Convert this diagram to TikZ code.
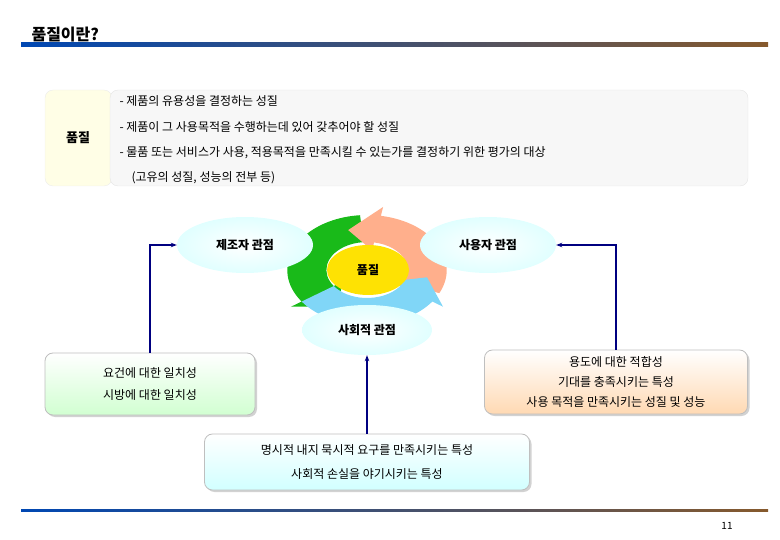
\documentclass[tikz,border=0pt]{standalone}
\usepackage{fontspec}
\setmainfont{Noto Sans CJK KR}
\usetikzlibrary{shadows,arrows.meta,shapes.geometric}
\begin{document}
\begin{tikzpicture}[x=1pt,y=-1pt,
  txt/.style={font=\fontsize{12}{14}\selectfont},
  ell/.style={ellipse,draw=none,shade,inner color=white,outer color=cyan!12,minimum width=136,minimum height=56,font=\bfseries\fontsize{12}{14}\selectfont},
  rbox/.style={rounded corners=8pt,draw=gray!50,line width=0.8pt,drop shadow={shadow xshift=2pt,shadow yshift=-2pt,fill=gray!70}},
  conn/.style={draw=blue!50!black,line width=1.2pt,-{Stealth[length=6pt]}}]
\useasboundingbox (0,0) rectangle (780,540);
% title and bars
\node[anchor=west,font=\bfseries\fontsize{16}{18}\selectfont] (title) at (28,35) {품질이란?};
\shade[left color=blue!60!cyan!70!black,right color=brown!70!black] (21,43) rectangle (768,47);
\shade[left color=blue!60!cyan!70!black,right color=brown!70!black] (21,509) rectangle (768,511);
\node[font=\fontsize{10}{12}\selectfont] (pg) at (727,526) {11};
% top definition
\draw[rounded corners=8pt,fill=yellow!10,draw=gray!15] (45,90) rectangle (112,186);
\node[font=\bfseries\fontsize{13}{15}\selectfont] (q) at (78,138) {품질};
\draw[rounded corners=8pt,fill=gray!6,draw=gray!20] (110,90) rectangle (748,186);
\node[txt,anchor=west] (l1) at (116,101) {- 제품의 유용성을 결정하는 성질};
\node[txt,anchor=west] (l2) at (116,127) {- 제품이 그 사용목적을 수행하는데 있어 갖추어야 할 성질};
\node[txt,anchor=west] (l3) at (116,153) {- 물품 또는 서비스가 사용, 적용목적을 만족시킬 수 있는가를 결정하기 위한 평가의 대상};
\node[txt,anchor=west] (l4) at (128,178) {(고유의 성질, 성능의 전부 등)};
% cycle arrows
\begin{scope}[shift={(367,270)},xscale=1.45]
\fill[green!70!black!90] (-95:55) arc (-95:-215:55) -- (-215:64) -- (-240:42) -- (-215:20) -- (-215:28) arc (-215:-95:28) -- cycle;
\fill[orange!60!red!45!white] (25:55) arc (25:-80:55) -- (-80:64) -- (-108:42) -- (-80:20) -- (-80:28) arc (-80:25:28) -- cycle;
\fill[cyan!50!white] (-215:55) arc (-215:-325:55) -- (-325:64) -- (-350:42) -- (-325:20) -- (-325:28) arc (-325:-215:28) -- cycle;
\end{scope}
\node[ellipse,fill=yellow!85!orange,minimum width=82,minimum height=50,font=\bfseries\fontsize{12}{14}\selectfont] (core) at (368,270) {품질};
\node[ell] (maker) at (245,245) {제조자 관점};
\node[ell] (user) at (488,245) {사용자 관점};
\node[ell,minimum width=130,minimum height=50] (soc) at (367,330) {사회적 관점};
% bottom boxes
\node[rbox,minimum width=210,minimum height=62,shade,top color=white,bottom color=green!18,align=center,txt] (lb) at (150,384) {요건에 대한 일치성\\[8pt]시방에 대한 일치성};
\node[rbox,minimum width=263,minimum height=64,shade,top color=white,bottom color=orange!30,align=center,txt] (rb) at (616,382) {용도에 대한 적합성\\[6pt]기대를 충족시키는 특성\\[6pt]사용 목적을 만족시키는 성질 및 성능};
\node[rbox,minimum width=325,minimum height=56,shade,top color=white,bottom color=cyan!18,align=center,txt] (bb) at (367,462) {명시적 내지 묵시적 요구를 만족시키는 특성\\[10pt]사회적 손실을 야기시키는 특성};
% connectors
\draw[conn] (lb.north) |- (maker.west);
\draw[conn] (rb.north) |- (user.east);
\draw[conn] (bb.north) -- (soc.south);
\end{tikzpicture}
\end{document}
